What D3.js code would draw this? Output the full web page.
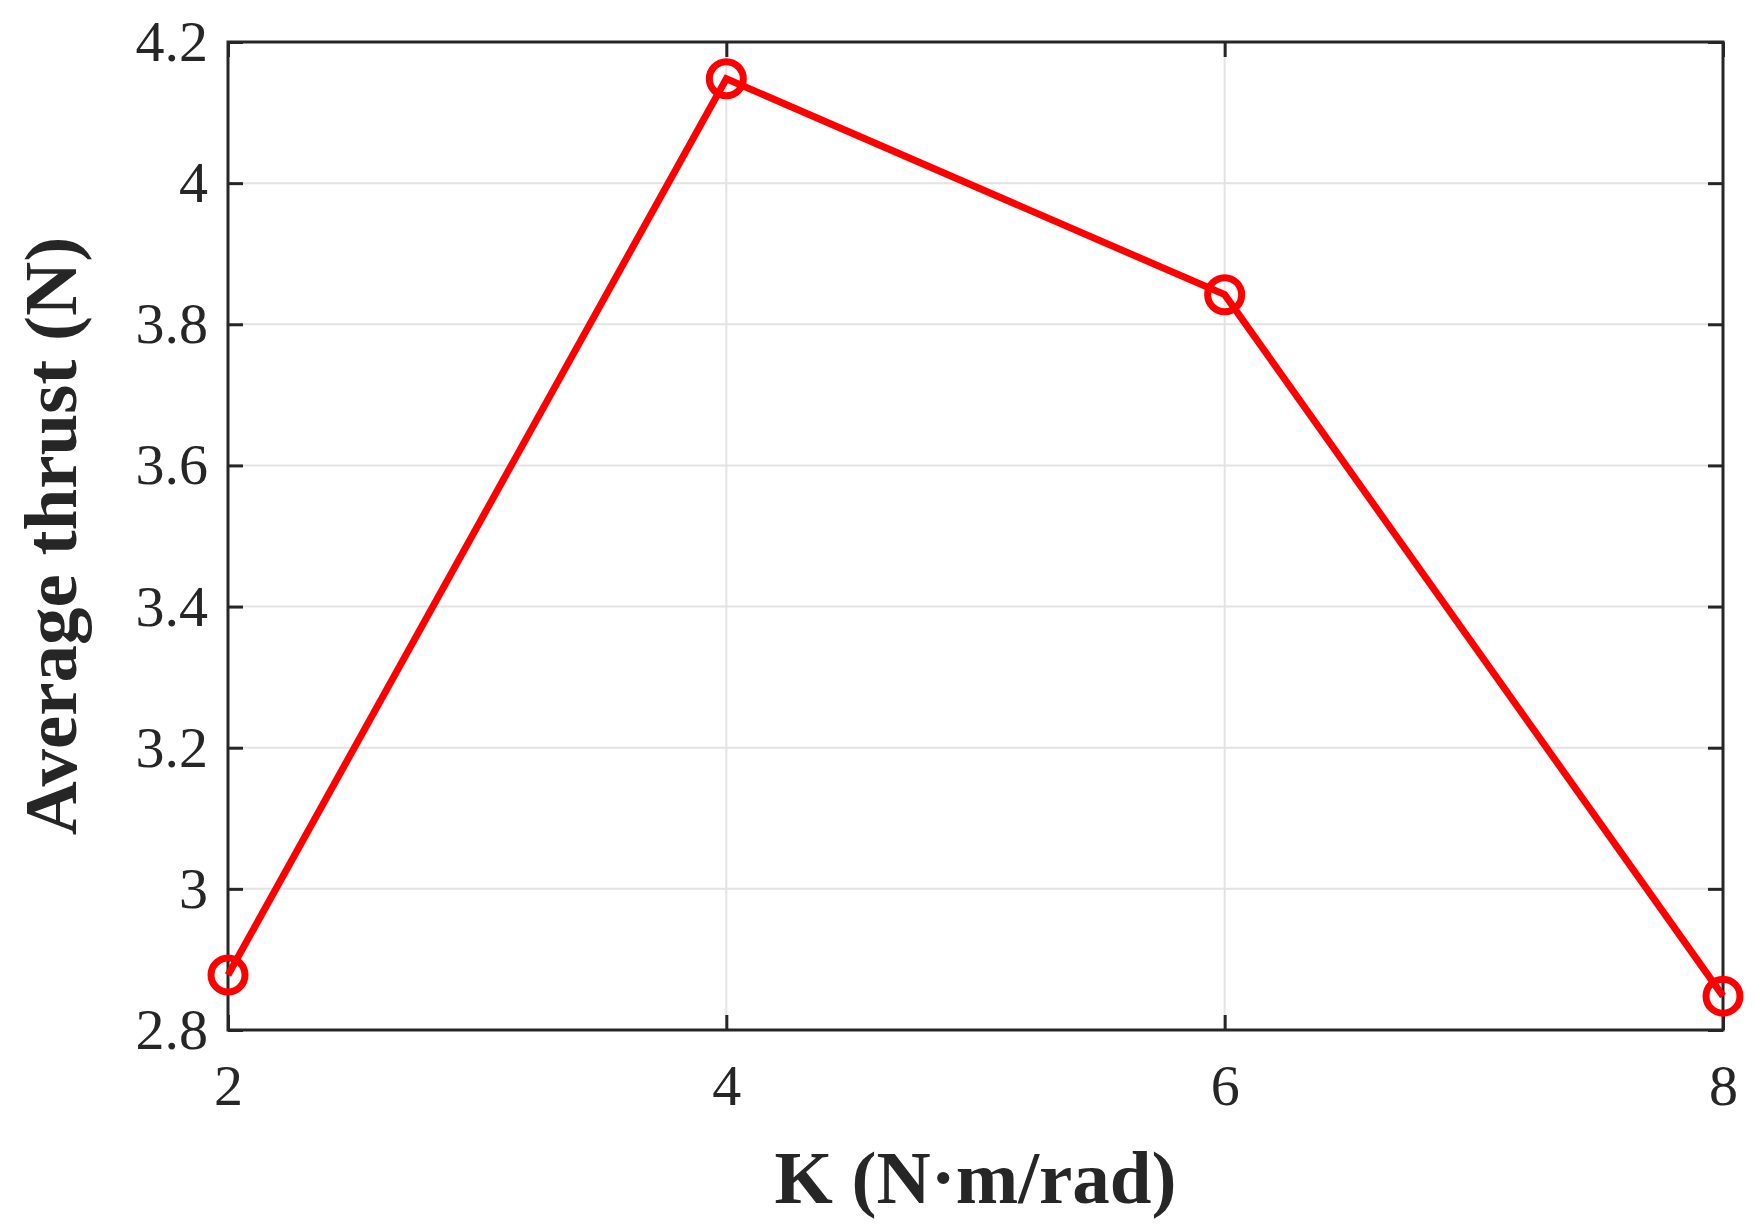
<!DOCTYPE html>
<html>
<head>
  <meta charset="utf-8">
  <style>
    body { margin: 0; background: #fff; }
    text { font-family: "Liberation Serif", serif; fill: #262626; }
  </style>
</head>
<body>
  <svg id="chart"></svg>
  <script src="https://d3js.org/d3.v7.min.js"></script>
  <script>
    // data
    const kValues = [2, 4, 6, 8];
    const thrust = [2.878, 4.148, 3.842, 2.848];
    const xTicks = [2, 4, 6, 8];
    const yTicks = [2.8, 3, 3.2, 3.4, 3.6, 3.8, 4, 4.2];

    const width = 1757, height = 1230;
    const m = { left: 228, right: 34, top: 42, bottom: 200 };

    const svg = d3.select("#chart").attr("width", width).attr("height", height);

    const x = d3.scaleLinear().domain([2, 8]).range([m.left, width - m.right]);
    const y = d3.scaleLinear().domain([2.8, 4.2]).range([height - m.bottom, m.top]);

    // grid
    svg.append("g").selectAll("line").data(xTicks).enter().append("line")
      .attr("x1", d => x(d)).attr("x2", d => x(d))
      .attr("y1", y(2.8)).attr("y2", y(4.2))
      .attr("stroke", "#e3e3e3").attr("stroke-width", 2);
    svg.append("g").selectAll("line").data(yTicks).enter().append("line")
      .attr("y1", d => y(d)).attr("y2", d => y(d))
      .attr("x1", x(2)).attr("x2", x(8))
      .attr("stroke", "#e3e3e3").attr("stroke-width", 2);

    // axes
    const axStyle = g => {
      g.select(".domain").remove();
      g.selectAll(".tick line").attr("stroke", "#262626").attr("stroke-width", 3);
      g.selectAll(".tick text").style("font-size", "58px").attr("fill", "#262626");
    };
    svg.append("g").attr("transform", `translate(0,${y(2.8)})`)
      .call(d3.axisBottom(x).tickValues(xTicks).tickSize(-15).tickPadding(34).tickFormat(d3.format("d")))
      .call(axStyle);
    svg.append("g").attr("transform", `translate(0,${y(4.2)})`)
      .call(d3.axisTop(x).tickValues(xTicks).tickSize(-15).tickFormat(""))
      .call(axStyle);
    svg.append("g").attr("transform", `translate(${x(2)},0)`)
      .call(d3.axisLeft(y).tickValues(yTicks).tickSize(-15).tickPadding(20).tickFormat(d => String(d)))
      .call(axStyle);
    svg.append("g").attr("transform", `translate(${x(8)},0)`)
      .call(d3.axisRight(y).tickValues(yTicks).tickSize(-15).tickFormat(""))
      .call(axStyle);

    svg.append("rect")
      .attr("x", x(2)).attr("y", y(4.2))
      .attr("width", x(8) - x(2)).attr("height", y(2.8) - y(4.2))
      .attr("fill", "none").attr("stroke", "#262626").attr("stroke-width", 3);

    // line
    const pts = kValues.map((k, i) => [k, thrust[i]]);
    svg.append("path").datum(pts)
      .attr("d", d3.line().x(d => x(d[0])).y(d => y(d[1])))
      .attr("fill", "none").attr("stroke", "#ff0000").attr("stroke-width", 7);
    svg.append("g").selectAll("circle").data(pts).enter().append("circle")
      .attr("cx", d => x(d[0])).attr("cy", d => y(d[1])).attr("r", 17)
      .attr("fill", "none").attr("stroke", "#ff0000").attr("stroke-width", 7);

    // labels
    svg.append("text").attr("x", (x(2) + x(8)) / 2).attr("y", 1203)
      .attr("text-anchor", "middle").style("font-size", "75px").style("font-weight", "bold")
      .text("K (N·m/rad)");
    svg.append("text").attr("transform", `translate(76,${(y(2.8) + y(4.2)) / 2}) rotate(-90)`)
      .attr("text-anchor", "middle").style("font-size", "75px").style("font-weight", "bold")
      .text("Average thrust (N)");
  </script>
</body>
</html>
